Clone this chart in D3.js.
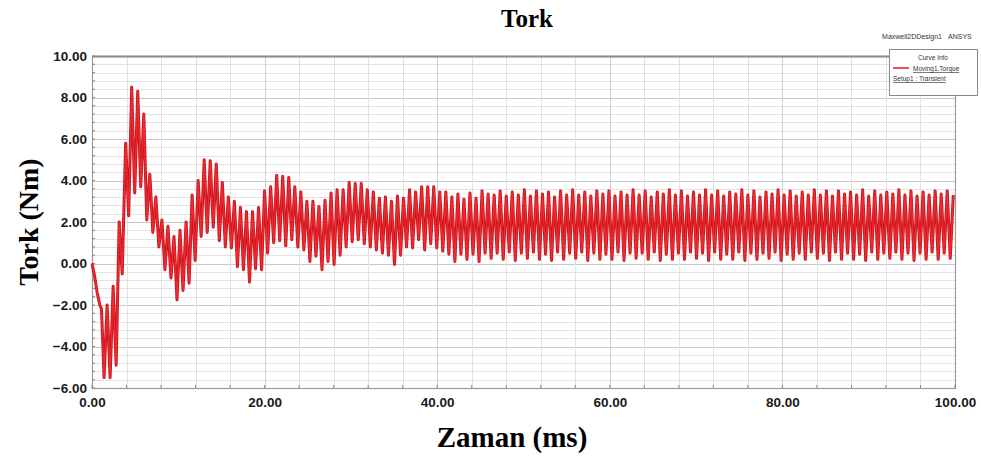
<!DOCTYPE html>
<html lang="en">
<head>
<meta charset="UTF-8">
<title>Tork</title>
<script src="https://d3js.org/d3.v7.min.js"></script>
<style>
  body { margin: 0; background: #fff; }
  svg { display: block; }
</style>
</head>
<body>
<div id="chart"></div>
<script>
// start of the run (before the regular ripple sets in)
const startTimes  = [0, 0.3, 0.6, 0.9, 1.1, 1.4, 1.75, 2.1, 2.45, 2.8, 3.15, 3.5];
const startValues = [0, -0.6, -1.4, -2.0, -2.2, -5.5, -2.0, -5.5, -1.1, -4.9, 2.0, -0.5];

// ripple: one peak and one trough per cycle
const firstPeakMs = 3.9;
const cycleMs = 0.7;
const peaks = [
  5.8, 8.5, 8.3, 7.2, 4.3, 3.2, 2.1, 1.8, 1.3, 1.6,
  2.0, 3.3, 4.0, 5.0, 4.95, 4.8, 3.9, 3.2, 3.0, 2.7,
  2.5, 2.5, 2.7, 3.5, 3.7, 4.25, 4.2, 4.15, 3.7, 3.45,
  3.0, 3.0, 2.75, 3.05, 3.4, 3.55, 3.55, 3.9, 3.85, 3.85,
  3.55, 3.45, 3.15, 3.2, 3.0, 3.25, 3.15, 3.55, 3.45, 3.7,
  3.7, 3.7, 3.45, 3.45, 3.2, 3.35, 3.1, 3.4, 3.15, 3.5,
  3.35,
  3.3, 3.5, 3.25, 3.45, 3.3, 3.55, 3.25, 3.5, 3.35, 3.45,
  3.2, 3.5, 3.3, 3.55, 3.3, 3.45, 3.25, 3.5, 3.35, 3.5,
  3.25, 3.45, 3.3, 3.55, 3.3, 3.5, 3.2, 3.45, 3.35, 3.55,
  3.3, 3.5, 3.25, 3.45, 3.3, 3.55, 3.3, 3.5, 3.25, 3.45,
  3.35, 3.55, 3.3, 3.5, 3.2, 3.45, 3.35, 3.55, 3.3, 3.5,
  3.25, 3.45, 3.3, 3.55, 3.3, 3.5, 3.25, 3.5, 3.35, 3.45,
  3.3, 3.55, 3.25, 3.5, 3.3, 3.45, 3.35, 3.55, 3.3, 3.5,
  3.25, 3.45, 3.3, 3.5, 3.35, 3.5, 3.3
];
const troughs = [
  2.3, 3.4, 3.7, 2.1, 1.5, 0.8, -0.3, -0.7, -1.75, -1.3,
  -0.95, 0.15, 1.3, 1.5, 1.75, 1.1, 0.8, 0.75, -0.15, -0.3,
  -0.9, -0.25, -0.3, 0.5, 1.0, 1.1, 0.85, 1.15, 0.8, 0.65,
  0.1, 0.35, -0.3, 0.1, -0.05, 0.4, 0.8, 1.05, 1.15, 0.95,
  0.8, 0.65, 0.5, 0.4, -0.05, 0.4, 0.8, 0.75, 1.15, 0.65,
  0.95, 0.75, 0.6, 0.45, 0.1, 0.45, 0.2, 0.45, 0.1, 0.5,
  0.25,
  0.5, 0.2, 0.55, 0.15, 0.5, 0.25, 0.55, 0.2, 0.45, 0.15,
  0.55, 0.2, 0.5, 0.25, 0.55, 0.15, 0.5, 0.2, 0.45, 0.2,
  0.55, 0.15, 0.5, 0.25, 0.5, 0.2, 0.55, 0.15, 0.45, 0.2,
  0.5, 0.2, 0.55, 0.25, 0.5, 0.15, 0.55, 0.2, 0.45, 0.2,
  0.55, 0.15, 0.5, 0.2, 0.5, 0.25, 0.55, 0.15, 0.45, 0.2,
  0.5, 0.2, 0.55, 0.25, 0.5, 0.15, 0.55, 0.2, 0.5, 0.2,
  0.45, 0.15, 0.55, 0.2, 0.5, 0.25, 0.55, 0.2, 0.5, 0.15,
  0.5, 0.2, 0.55, 0.2, 0.5, 0.25
];

const xTicks = [0, 20, 40, 60, 80, 100];
const yTicks = [-6, -4, -2, 0, 2, 4, 6, 8, 10];

const W = 981, H = 459;
const PLOT = {LEFT: 92, RIGHT: 955, TOP: 56, BOTTOM: 388};

const svg = d3.select("#chart").append("svg")
  .attr("width", W).attr("height", H);

const x = d3.scaleLinear().domain([0, 100]).range([PLOT.LEFT, PLOT.RIGHT]);
const y = d3.scaleLinear().domain([-6, 10]).range([PLOT.BOTTOM, PLOT.TOP]);

// points
const data = startTimes.map((t, i) => ({t: t, v: startValues[i]}));
peaks.forEach((p, i) => {
  data.push({t: firstPeakMs + i * cycleMs, v: p});
  if (i < troughs.length) data.push({t: firstPeakMs + i * cycleMs + cycleMs / 2, v: troughs[i]});
});

// grid
const grid = svg.append("g");
grid.selectAll(".hg").data(d3.range(-6, 10.01, 0.4).map(d => +d.toFixed(2)))
  .enter().append("line")
  .attr("x1", PLOT.LEFT).attr("x2", PLOT.RIGHT)
  .attr("y1", d => Math.round(y(d)) + 0.5).attr("y2", d => Math.round(y(d)) + 0.5)
  .attr("stroke", d => Math.abs(d % 2) < 0.01 ? "#c8c8c8" : "#e2e2e2")
  .attr("stroke-width", 1);
grid.selectAll(".vg").data(d3.range(0, 100.01, 4))
  .enter().append("line")
  .attr("y1", PLOT.TOP).attr("y2", PLOT.BOTTOM)
  .attr("x1", d => Math.round(x(d)) + 0.5).attr("x2", d => Math.round(x(d)) + 0.5)
  .attr("stroke", d => d % 20 === 0 ? "#cfcfcf" : "#e2e2e2")
  .attr("stroke-width", 1);

// frame
svg.append("rect")
  .attr("x", PLOT.LEFT + 0.5).attr("y", PLOT.TOP + 0.5)
  .attr("width", PLOT.RIGHT - PLOT.LEFT).attr("height", PLOT.BOTTOM - PLOT.TOP)
  .attr("fill", "none").attr("stroke", "#9a9a9a").attr("stroke-width", 1.2);
svg.append("line")
  .attr("x1", PLOT.LEFT).attr("x2", PLOT.RIGHT).attr("y1", PLOT.TOP + 0.5).attr("y2", PLOT.TOP + 0.5)
  .attr("stroke", "#8a8a8a").attr("stroke-width", 2);

// axes
const yAxis = d3.axisLeft(y).tickValues(yTicks).tickFormat(d3.format(".2f")).tickSize(0).tickPadding(5);
const xAxis = d3.axisBottom(x).tickValues(xTicks).tickFormat(d3.format(".2f")).tickSize(0).tickPadding(9);

const gy = svg.append("g").attr("transform", `translate(${PLOT.LEFT},0)`).call(yAxis);
const gx = svg.append("g").attr("transform", `translate(0,${PLOT.BOTTOM})`).call(xAxis);
[gx, gy].forEach(g => {
  g.select(".domain").remove();
  g.selectAll("text")
    .attr("font-family", "'Liberation Sans', Arial, sans-serif")
    .attr("font-weight", "bold").attr("font-size", 13.5).attr("fill", "#1a1a1a");
});

// small tick marks on the axes
svg.append("g").selectAll("line").data(d3.range(-6, 10.01, 0.4))
  .enter().append("line")
  .attr("x1", PLOT.LEFT).attr("x2", PLOT.LEFT + 3)
  .attr("y1", d => y(d)).attr("y2", d => y(d))
  .attr("stroke", "#888");
svg.append("g").selectAll("line").data(d3.range(0, 100.01, 4))
  .enter().append("line")
  .attr("x1", d => x(d)).attr("x2", d => x(d))
  .attr("y1", PLOT.BOTTOM).attr("y2", PLOT.BOTTOM - 3)
  .attr("stroke", "#888");

// curve: darker underlay then brighter core, like the thick ANSYS trace
const line = d3.line().x(d => x(d.t)).y(d => y(d.v));
svg.append("path").datum(data)
  .attr("d", line)
  .attr("fill", "none")
  .attr("stroke", "#c8141c")
  .attr("stroke-width", 3)
  .attr("stroke-linejoin", "round");
svg.append("path").datum(data)
  .attr("d", line)
  .attr("fill", "none")
  .attr("stroke", "#ee2a30")
  .attr("stroke-width", 1.4)
  .attr("stroke-linejoin", "round");

// titles
const serif = "'Liberation Serif', 'Times New Roman', serif";
svg.append("text").attr("x", 527).attr("y", 27)
  .attr("text-anchor", "middle").attr("font-family", serif)
  .attr("font-weight", "bold").attr("font-size", 25).text("Tork");
svg.append("text").attr("x", 512).attr("y", 447)
  .attr("text-anchor", "middle").attr("font-family", serif)
  .attr("font-weight", "bold").attr("font-size", 29).text("Zaman (ms)");
svg.append("text")
  .attr("transform", "translate(38,222) rotate(-90)")
  .attr("text-anchor", "middle").attr("font-family", serif)
  .attr("font-weight", "bold").attr("font-size", 28).text("Tork (Nm)");

// ANSYS header and legend
const small = "'Liberation Sans', Arial, sans-serif";
svg.append("text").attr("x", 942).attr("y", 39).attr("text-anchor", "end")
  .attr("font-family", small).attr("font-size", 7).attr("fill", "#333").text("Maxwell2DDesign1");
svg.append("text").attr("x", 948).attr("y", 39)
  .attr("font-family", small).attr("font-size", 7).attr("fill", "#333").text("ANSYS");

const lg = svg.append("g");
lg.append("rect").attr("x", 889.5).attr("y", 49.5).attr("width", 88).attr("height", 46)
  .attr("fill", "#fff").attr("stroke", "#8a8a8a");
lg.append("text").attr("x", 933).attr("y", 60).attr("text-anchor", "middle")
  .attr("font-family", small).attr("font-size", 6.5).attr("fill", "#333").text("Curve Info");
lg.append("line").attr("x1", 893).attr("x2", 909).attr("y1", 68).attr("y2", 68)
  .attr("stroke", "#e11b24").attr("stroke-width", 1.5);
lg.append("text").attr("x", 913).attr("y", 71)
  .attr("font-family", small).attr("font-size", 6.5).attr("fill", "#333")
  .attr("text-decoration", "underline").text("Moving1.Torque");
lg.append("text").attr("x", 893).attr("y", 81)
  .attr("font-family", small).attr("font-size", 6.5).attr("fill", "#333")
  .attr("text-decoration", "underline").text("Setup1 : Transient");
</script>
</body>
</html>
